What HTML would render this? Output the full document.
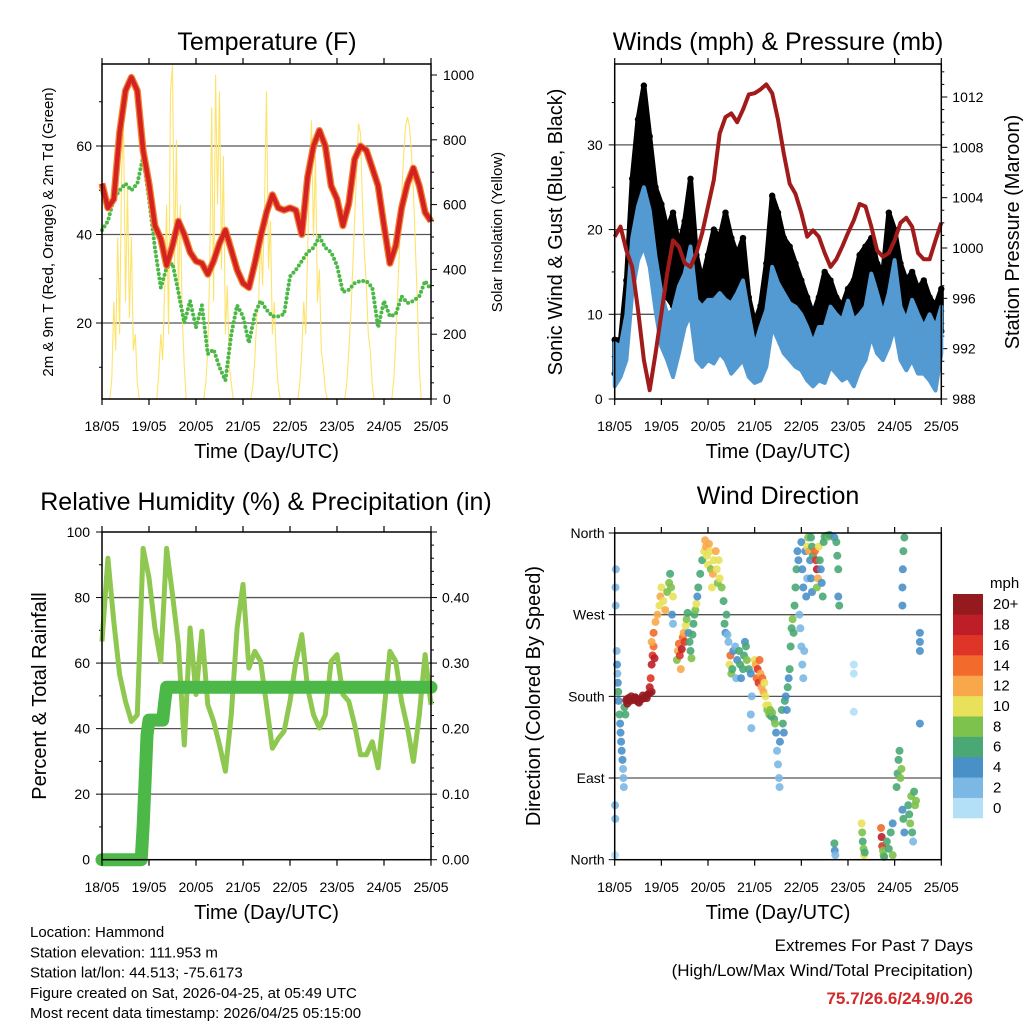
<!DOCTYPE html>
<html><head><meta charset="utf-8">
<style>
html,body{margin:0;padding:0;background:#fff;}
svg{display:block;font-family:"Liberation Sans",Arial,sans-serif;}
</style></head>
<body>
<svg id="chart" width="1024" height="1024" viewBox="0 0 1024 1024" xmlns="http://www.w3.org/2000/svg">
<rect width="1024" height="1024" fill="#fff"/>
<g id="layer"></g>
</svg>
<script>
// ---------- DATA ----------
const dayLabels = ["18/05","19/05","20/05","21/05","22/05","23/05","24/05","25/05"];
// 3-hourly series (57 points, 0..168 h)
const tempF = [51.5,46,48,63,72.5,75.5,72.5,59,51.5,42,39,33,37.5,43,40,36,34,33.5,31,34,38,41,36.5,32,29,28,33.5,39.5,45,49,46,45.5,46,45.5,40,53,60,63.5,60,51,48,42,47,57,60,59,55,51,42,33.5,37.5,46,51.5,55,51,45,43];
const dewF = [41,43,48,50,51.5,50,51.5,57.5,48,37,28,32.5,33.5,27,20,25,19,24,13,14,10,7,17.5,24,21.5,15.5,22,25,23,21.5,21.5,22,30.5,32,34,36,37,39.5,37,36,33,27,27.5,29,29.5,29.5,28,19,25,21.5,22,26,24.5,25,26,29.5,27.5];
// hourly solar insolation (169 points)
const solar = [
0,0,0,0,0,60,300,150,500,200,700,850,300,650,250,500,150,200,50,0,0,0,0,0,
0,0,0,0,0,80,200,120,350,600,200,950,1030,400,800,300,600,250,100,0,0,0,0,0,
0,0,0,0,0,50,150,400,900,300,1000,600,950,400,750,200,350,100,50,0,0,0,0,0,
0,0,0,0,0,40,120,250,300,500,350,600,950,400,550,200,300,120,40,0,0,0,0,0,
0,0,0,0,0,50,150,300,200,450,700,860,500,750,300,400,150,100,30,0,0,0,0,0,
0,0,0,0,0,50,150,250,400,550,700,850,820,600,450,350,200,150,40,0,0,0,0,0,
0,0,0,0,0,60,180,330,480,620,750,840,870,840,760,640,480,300,100,0,0,0,0,0,
0];
const pressureMb = [1000.9,1001.7,999.8,998.5,995.1,991.1,988.7,991.6,994.8,998,1000.6,1000.1,998.8,998.5,999.6,1001.2,1003.3,1005.4,1009.1,1010.4,1010.7,1010,1011,1012.2,1012.3,1012.6,1013,1012.3,1010.2,1007.5,1005.1,1004.3,1002.8,1000.9,1001.4,1000.9,999.6,998.5,999.1,1000.1,1001.2,1002.2,1003.5,1003.3,1001.7,999.8,999.3,999.6,1000.6,1002,1002.4,1001.7,999.6,999.1,999.1,1000.6,1002];
const windHigh = [6.6,6.2,10,19,22.7,25,22.3,16.8,12.5,10,10.5,13.3,14.8,18,11.7,10.9,11.7,11.7,12.5,11.7,11.3,12.5,14,10,6.2,8.5,10.5,15.6,13.7,12.5,11.3,10.9,10,8.5,6.6,8.5,8.5,10.9,10,9.3,11.6,9.3,10,10.9,14.8,12.5,10,12.5,16.4,10.9,9.3,11.7,10,8.5,10,8.5,10.9];
const windLow = [1.5,2.6,4.6,12.5,16.4,18,15.6,10.5,6.2,4.6,2.6,5.4,8.5,10,4.6,3.8,4.6,4.2,5.4,4.6,3,3.8,4.6,2.6,1.9,2.2,3.8,8.5,7,5.4,4.6,3.8,3.4,2.2,1.5,2.2,1.9,3.8,3,2.2,2.6,1.5,3.4,4.6,7.4,5.4,4.6,6.2,8.5,4.6,3.4,4.6,3,3,2.2,1,5.4];
const gustHigh = [7,7,14,26,33,37,31,25,23,20,22,18,21,26,17,14,17,20,19,22,19,17,19,12,9,11,16,24,22,19,18,16,14,12,10,12,15,14,12,11,13,14,17,18,19,16,15,22,20,16,14,15,13,14,12,11,13];
const gustLow = [3,4,8,18,22,24,22,16,14,12,11,12,14,16,10,8,10,12,12,12,11,10,11,7,5,6,9,14,13,12,10,9,8,7,5,7,8,8,7,6,7,7,10,11,11,9,9,12,12,9,8,9,8,8,7,6,8];
const rhPct = [66.6,92,72.7,56.5,48.3,42.2,44.2,95,86,70.7,60.5,95,80.9,65.6,35,70.7,50.4,69.7,47.3,42.2,35,27,44.2,70.7,84,58.5,63.6,60.5,47.3,34,37,39.2,48.3,60.5,68.7,52.4,44.2,40.2,44.2,60.5,62.6,50.4,48.3,41.2,32,32,36,28,45.3,63.6,60.5,48.3,40.2,30,44.2,62.6,47.3];
const precipHours = [0,20,21,22,23,24,31,32,33,168];
const precipIn = [0,0,0.05,0.12,0.19,0.213,0.213,0.24,0.263,0.263];
// wind direction scatter (hours, degrees, mph)
const dirHours = [0.2,0.3,0.4,0.5,0.6,0.2,1,1.2,1.4,1.6,1.8,2,2.5,2.8,3,3.3,3.6,4,4.3,4.5,4.7,5,5.5,6,
6,7,8,9,10,11,12,13,14,15,16,17,18,19,6.5,8.5,10.5,12.5,14.5,16.5,
18,18.5,19,19.5,20,19,20.5,20,21,22,23,23.5,24,25,26,27,28,28.5,29,30,29.5,30,
32,32.5,33,33.5,34,34.5,35,35.5,36,36.5,37,37.5,38,38.5,39,39.5,40,40.5,41,41.5,42,42.5,43,44,45,46,46.5,47,47.5,48,48.5,49,49.5,50,50.5,51,52,52.5,53,53.5,54,55,56,56.5,57,57.5,58,58.5,
59,59.5,60,60.5,61,62,62.5,63,64,64.5,65,66,66.5,67,67.5,68,69,70,70.5,70,70.3,
72,72.5,73,73.5,74,74.5,75,75.5,76,76.5,77,77.5,78,78.5,79,79.5,80,80.5,81,82,82.5,
83,83.5,84,84.5,84.8,85,86,86.5,87,87.5,88,88.5,89,89.5,90,90.5,91,91.5,92,92.5,93,93.5,94,94.5,
95,95.5,96,96.5,97,96,96.5,97,98,99,98.5,97.5,
99,99.5,100,101,101.5,100.5,101,101.5,102,
103,103.5,104,104.5,105,104,105.5,106,106.5,107,107.5,
108,109,110,110.5,113,114,114.5,115,115,115.5,
113,113.2,113.5,127,127.3,127.6,128,128.3,128.6,137,137.3,137.6,138,138.3,138.6,
140,141,142,143,143,145,145.5,146,146.5,147,147.5,148,148.5,149,
151,151.5,152,152.5,153,153.5,154,154.5,155,148,148.2,148.5,149,148,
157,157,157,157,123,123,123];
const dirDegrees = [60,45,300,280,320,5,230,215,205,195,185,175,160,150,140,130,120,110,100,90,80,168,160,175,
176,178,175,177,176,178,174,176,177,178,180,182,184,185,172,180,179,173,181,178,
190,200,215,225,235,240,222,250,262,270,280,290,300,285,275,295,305,315,300,290,270,260,
220,230,238,225,210,232,245,250,240,258,265,272,250,240,230,222,248,260,270,275,282,290,300,315,330,340,352,345,335,325,348,340,320,300,315,330,340,320,305,330,310,300,285,260,250,270,248,240,
215,225,205,210,230,235,200,220,230,215,200,210,225,240,235,220,210,205,180,160,145,
220,215,200,210,195,220,205,190,200,185,195,180,170,165,170,160,165,158,162,155,150,
140,120,105,90,80,130,165,150,140,175,180,165,190,200,210,235,255,265,250,280,300,320,340,330,
270,255,235,215,200,350,320,300,340,310,290,230,
345,355,340,355,345,330,310,295,335,
340,330,320,310,345,300,330,320,305,290,350,
356,357,356,358,355,350,335,320,290,280,
18,10,5,40,30,20,12,5,8,35,25,15,10,5,3,
20,12,30,40,5,80,95,110,120,90,100,55,45,30,
60,50,40,70,30,20,75,60,65,300,320,340,355,280,
150,230,250,240,215,205,163];
const dirSpeeds = [3,3,2,3,2,1,3,4,3,4,6,5,6,5,4,4,4,4,3,3,3,7,6,14,
21,21,21,21,21,21,21,21,21,21,21,21,21,21,21,21,21,21,21,21,
18,16,18,16,14,12,18,14,12,12,10,12,10,10,12,8,8,6,8,10,4,2,
8,12,14,16,12,18,14,12,16,10,8,6,4,6,6,8,6,6,6,8,10,4,6,6,6,10,12,12,10,10,12,10,8,10,12,10,12,10,8,10,10,8,6,6,4,6,2,2,
10,14,8,6,4,2,2,4,6,6,4,6,6,4,6,8,6,4,2,2,2,
10,12,14,16,16,14,12,12,14,12,10,10,10,8,10,8,8,6,8,6,8,
4,2,2,2,2,4,6,6,4,6,4,5,6,5,6,6,6,8,7,6,6,6,4,4,
2,2,2,2,2,4,4,4,4,2,4,3,
10,8,12,6,6,4,4,4,6,
14,16,18,12,10,8,6,4,4,6,6,
6,6,8,6,4,6,6,6,4,6,
6,5,3,10,8,6,8,10,6,14,18,16,8,8,6,
6,6,6,4,8,6,6,6,6,8,8,4,6,5,
6,6,8,8,6,2,6,8,8,4,4,6,6,4,
4,4,4,4,1,1,1];
const speedColors = ["#b3e0f6","#7cb8e4","#4a90c8","#4aa874","#7dc24c","#e9e15a","#f8a84a","#f26a2c","#df3528","#bd1e28","#951a1e"];
const speedLabels = ["0","2","4","6","8","10","12","14","16","18","20+"];

// ---------- HELPERS ----------
const NS = "http://www.w3.org/2000/svg";
const layer = document.getElementById("layer");
function mk(tag, attrs, parent) {
  const e = document.createElementNS(NS, tag);
  for (const k in attrs) e.setAttribute(k, attrs[k]);
  (parent || layer).appendChild(e);
  return e;
}
function txt(str, x, y, size, anchor, parent, extra) {
  const t = mk("text", Object.assign({x: x, y: y, "font-size": size, "text-anchor": anchor || "middle", fill: "#000"}, extra || {}), parent);
  t.textContent = str;
  return t;
}
function xScale(x0, x1) { return h => x0 + (h / 168) * (x1 - x0); }
function lin(v0, y0, v1, y1) { return v => y0 + (v - v0) * (y1 - y0) / (v1 - v0); }
function pts(xs, ys) { return xs.map((x, i) => x.toFixed(1) + "," + ys[i].toFixed(1)).join(" "); }

function frame(g, x0, y0, x1, y1) {
  const r = mk("rect", {x: x0, y: y0, width: x1 - x0, height: y1 - y0, fill: "none", stroke: "#000", "stroke-width": 1.5}, g);
  
  
}
function xAxis(g, x0, x1, yTop, yBot, labelY, titleY) {
  const X = xScale(x0, x1);
  dayLabels.forEach((d, i) => {
    const x = X(i * 24);
    mk("line", {x1: x, y1: yBot, x2: x, y2: yBot + 6, stroke: "#000", "stroke-width": 1.2}, g);
    mk("line", {x1: x, y1: yTop, x2: x, y2: yTop - 6, stroke: "#000", "stroke-width": 1.2}, g);
    const t = txt(d, x, labelY, 14, "middle", g);
    
    
  });
  const tt = txt("Time (Day/UTC)", (x0 + x1) / 2, titleY, 20, "middle", g);
  
  
}
function vTitle(g, str, x, y, size) {
  const t = txt(str, x, y, size, "middle", g, {transform: "rotate(-90 " + x + " " + y + ")"});
  return t;
}

// ---------- PANEL 1: TEMPERATURE ----------
(function () {
  const g = mk("g", {});
  
  
  const x0 = 102, x1 = 431, y0 = 64, y1 = 399;
  const X = xScale(x0, x1);
  const Y = lin(0, 411.5, 20, 323);
  const YS = lin(0, 399, 1000, 75);
  [20, 40, 60].forEach(v => {
    const l = mk("line", {x1: x0, x2: x1, y1: Y(v), y2: Y(v), stroke: "#555", "stroke-width": 1.3}, g);
    
    
    mk("line", {x1: x0, x2: x0 - 6, y1: Y(v), y2: Y(v), stroke: "#000"}, g);
    const t = txt(String(v), x0 - 10, Y(v) + 5, 14, "end", g);
    
    
  });
  [10, 30, 50, 70].forEach(v => mk("line", {x1: x0, x2: x0 - 3, y1: Y(v), y2: Y(v), stroke: "#000"}, g));
  for (let s = 0; s <= 1000; s += 50) {
    mk("line", {x1: x1, x2: x1 + (s % 200 === 0 ? 6 : 3), y1: YS(s), y2: YS(s), stroke: "#000"}, g);
    if (s % 200 === 0) {
      const t = txt(String(s), x1 + 12, YS(s) + 5, 14, "start", g);
      
      
    }
  }
  const sol = mk("polyline", {points: pts(solar.map((v, i) => X(i)), solar.map(v => Math.max(y0, YS(v)))), fill: "none", stroke: "#fde36a", "stroke-width": 1.1}, g);
  
  
  const dew = mk("polyline", {points: pts(dewF.map((v, i) => X(i * 3)), dewF.map(Y)), fill: "none", stroke: "#4db848", "stroke-width": 4, "stroke-dasharray": "0 4.5", "stroke-linecap": "round"}, g);
  
  
  const t9 = mk("polyline", {points: pts(tempF.map((v, i) => X(i * 3)), tempF.map(Y)), fill: "none", stroke: "#f2822e", "stroke-width": 7, "stroke-linejoin": "round"}, g);
  
  
  const t2 = mk("polyline", {points: pts(tempF.map((v, i) => X(i * 3)), tempF.map(Y)), fill: "none", stroke: "#d42222", "stroke-width": 4.5, "stroke-linejoin": "round"}, g);
  
  
  frame(g, x0, y0, x1, y1);
  xAxis(g, x0, x1, y0, y1, 431, 458);
  const title = txt("Temperature (F)", 267, 50, 25, "middle", g);
  
  
  const yl = vTitle(g, "2m & 9m T (Red, Orange) & 2m Td (Green)", 53, 232, 15);
  
  
  const yr = vTitle(g, "Solar Insolation (Yellow)", 502, 232, 15);
  
  
})();

// ---------- PANEL 2: WINDS ----------
(function () {
  const g = mk("g", {});
  
  
  const x0 = 614.7, x1 = 941.3, y0 = 64, y1 = 399;
  const X = xScale(x0, x1);
  const Y = lin(0, 399, 10, 314.3);
  const YP = lin(988, 399, 1012, 97);
  [10, 20, 30].forEach(v => {
    const l = mk("line", {x1: x0, x2: x1, y1: Y(v), y2: Y(v), stroke: "#555", "stroke-width": 1.3}, g);
    
    
  });
  [0, 10, 20, 30].forEach(v => {
    mk("line", {x1: x0, x2: x0 - 6, y1: Y(v), y2: Y(v), stroke: "#000"}, g);
    const t = txt(String(v), x0 - 12, Y(v) + 5, 14, "end", g);
    
    
  });
  [5, 15, 25, 35].forEach(v => mk("line", {x1: x0, x2: x0 - 3, y1: Y(v), y2: Y(v), stroke: "#000"}, g));
  for (let p = 988; p <= 1014; p += 1) {
    mk("line", {x1: x1, x2: x1 + (p % 4 === 0 ? 6 : 3), y1: YP(p), y2: YP(p), stroke: "#000"}, g);
    if (p % 4 === 0) {
      const t = txt(String(p), x1 + 11, YP(p) + 5, 14, "start", g);
      
      
    }
  }
  const xs = gustHigh.map((v, i) => X(i * 3));
  const gb = mk("polygon", {points: pts(xs.concat(xs.slice().reverse()), gustHigh.map(Y).concat(gustLow.map(Y).reverse())), fill: "#000", stroke: "#000", "stroke-width": 5, "stroke-linejoin": "round"}, g);
  
  
  gustHigh.forEach((v, i) => {
    const c = mk("circle", {cx: xs[i], cy: Y(v), r: 3.2, fill: "#000"}, g);
    
    
  });
  gustLow.forEach((v, i) => {
    const c = mk("circle", {cx: xs[i], cy: Y(v), r: 3.2, fill: "#000"}, g);
    
    
  });
  const wb = mk("polygon", {points: pts(xs.concat(xs.slice().reverse()), windHigh.map(Y).concat(windLow.map(Y).reverse())), fill: "#5399d2", stroke: "#5399d2", "stroke-width": 4, "stroke-linejoin": "round"}, g);
  
  
  const pl = mk("polyline", {points: pts(pressureMb.map((v, i) => X(i * 3)), pressureMb.map(YP)), fill: "none", stroke: "#a11b1b", "stroke-width": 4, "stroke-linejoin": "round"}, g);
  
  
  frame(g, x0, y0, x1, y1);
  xAxis(g, x0, x1, y0, y1, 431, 458);
  const title = txt("Winds (mph) & Pressure (mb)", 778, 50, 25, "middle", g);
  
  
  const yl = vTitle(g, "Sonic Wind & Gust (Blue, Black)", 562, 232, 20);
  
  
  const yr = vTitle(g, "Station Pressure (Maroon)", 1019, 232, 20);
  
  
})();

// ---------- PANEL 3: RH & PRECIP ----------
(function () {
  const g = mk("g", {});
  
  
  const x0 = 102, x1 = 431, y0 = 532, y1 = 859.7;
  const X = xScale(x0, x1);
  const Y = lin(0, 859.7, 100, 532);
  const YP = lin(0, 859.7, 0.5, 532);
  [20, 40, 60, 80].forEach(v => {
    const l = mk("line", {x1: x0, x2: x1, y1: Y(v), y2: Y(v), stroke: "#555", "stroke-width": 1.3}, g);
    
    
  });
  for (let v = 0; v <= 100; v += 10) {
    mk("line", {x1: x0, x2: x0 - (v % 20 === 0 ? 6 : 3), y1: Y(v), y2: Y(v), stroke: "#000"}, g);
    if (v % 20 === 0) {
      const t = txt(String(v), x0 - 12, Y(v) + 5, 14, "end", g);
      
      
    }
  }
  for (let k = 0; k <= 25; k++) {
    const p = k * 0.02;
    mk("line", {x1: x1, x2: x1 + (k % 5 === 0 ? 6 : 3), y1: YP(p), y2: YP(p), stroke: "#000"}, g);
    if (k % 5 === 0 && k < 25) {
      const t = txt(p.toFixed(2), x1 + 11, YP(p) + 5, 14, "start", g);
      
      
    }
  }
  const rh = mk("polyline", {points: pts(rhPct.map((v, i) => X(i * 3)), rhPct.map(Y)), fill: "none", stroke: "#8fc850", "stroke-width": 5, "stroke-linejoin": "round"}, g);
  
  
  const pr = mk("polyline", {points: pts(precipHours.map(X), precipIn.map(YP)), fill: "none", stroke: "#4cb848", "stroke-width": 13, "stroke-linejoin": "round", "stroke-linecap": "round"}, g);
  
  
  frame(g, x0, y0, x1, y1);
  xAxis(g, x0, x1, y0, y1, 892, 919);
  const title = txt("Relative Humidity (%) & Precipitation (in)", 266, 510, 25, "middle", g);
  
  
  const yl = vTitle(g, "Percent & Total Rainfall", 46, 696, 20);
  
  
})();

// ---------- PANEL 4: WIND DIRECTION ----------
(function () {
  const g = mk("g", {});
  
  
  const x0 = 614.7, x1 = 941.3, y0 = 533, y1 = 859.7;
  const X = xScale(x0, x1);
  const Y = lin(0, 859.7, 360, 533);
  const dirNames = ["North", "East", "South", "West", "North"];
  dirNames.forEach((n, i) => {
    const v = i * 90;
    if (i > 0 && i < 4) {
      const l = mk("line", {x1: x0, x2: x1, y1: Y(v), y2: Y(v), stroke: "#555", "stroke-width": 1.3}, g);
      
      
    }
    mk("line", {x1: x0, x2: x0 - 6, y1: Y(v), y2: Y(v), stroke: "#000"}, g);
    const t = txt(n, x0 - 10, Y(v) + 5, 14, "end", g);
    
    
  });
  dirHours.forEach((h, i) => {
    const idx = Math.min(10, Math.floor(dirSpeeds[i] / 2));
    const c = mk("circle", {cx: X(h), cy: Y(dirDegrees[i]), r: 4, fill: speedColors[idx], "fill-opacity": 0.9}, g);
    
    
  });
  frame(g, x0, y0, x1, y1);
  xAxis(g, x0, x1, y0, y1, 892, 919);
  const title = txt("Wind Direction", 778, 504, 25, "middle", g);
  
  
  const yl = vTitle(g, "Direction (Colored By Speed)", 540, 696, 20);
  
  
  // colorbar
  const cb = mk("g", {}, g);
  
  
  const bh = 224 / 11;
  speedColors.forEach((col, i) => {
    const yy = 818 - (i + 1) * bh;
    const r = mk("rect", {x: 953, y: yy, width: 30, height: bh + 0.3, fill: col}, cb);
    
    
    const t = txt(speedLabels[i], 993, yy + bh / 2 + 5, 15, "start", cb);
    
    
  });
  const u = txt("mph", 990, 588, 15, "start", cb);
  
  
})();

// ---------- FOOTER ----------
(function () {
  const g = mk("g", {});
  
  
  const lines = ["Location: Hammond", "Station elevation: 111.953 m", "Station lat/lon: 44.513; -75.6173", "Figure created on Sat, 2026-04-25, at 05:49 UTC", "Most recent data timestamp: 2026/04/25 05:15:00"];
  lines.forEach((s, i) => {
    const t = txt(s, 30, 937 + i * 20.3, 15, "start", g);
    
    
  });
  const e1 = txt("Extremes For Past 7 Days", 973, 951, 17, "end", g);
  
  
  const e2 = txt("(High/Low/Max Wind/Total Precipitation)", 973, 976, 17, "end", g);
  
  
  const e3 = txt("75.7/26.6/24.9/0.26", 973, 1004, 17, "end", g, {fill: "#d12a2a", "font-weight": "bold"});
  
  
})();
</script>
</body></html>
